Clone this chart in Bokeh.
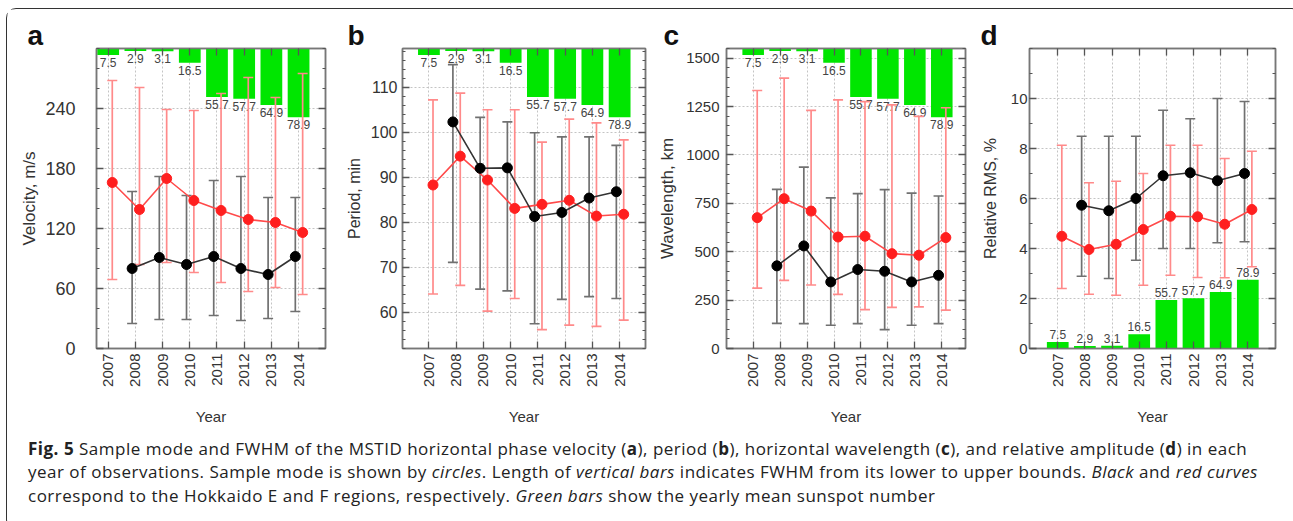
import math
from bokeh.plotting import figure
from bokeh.models import ColumnDataSource, FixedTicker, LinearAxis, Range1d, Div
from bokeh.layouts import row, column
from bokeh.core.properties import value
from bokeh.embed import file_html
from bokeh.resources import INLINE

NAN = float("nan")

years = [2007, 2008, 2009, 2010, 2011, 2012, 2013, 2014]
sunspot = [7.5, 2.9, 3.1, 16.5, 55.7, 57.7, 64.9, 78.9]
sunspot_labels = ["7.5", "2.9", "3.1", "16.5", "55.7", "57.7", "64.9", "78.9"]

# (a) Velocity, m/s
vel_E_mode = [NAN, 80, 91, 84, 92, 80, 74, 92]
vel_E_low = [NAN, 25, 29, 29, 33, 28, 30, 37]
vel_E_up = [NAN, 157, 172, 153, 168, 172, 151, 151]
vel_F_mode = [166, 139, 170, 148, 138, 129, 126, 116]
vel_F_low = [69, 84, 86, 76, 66, 57, 61, 54]
vel_F_up = [268, 261, 239, 238, 255, 271, 251, 275]

# (b) Period, min
per_E_mode = [NAN, 102.3, 92.0, 92.1, 81.3, 82.2, 85.4, 86.8]
per_E_low = [NAN, 71.1, 65.2, 64.8, 57.5, 62.9, 63.5, 63.1]
per_E_up = [NAN, 115.0, 103.3, 102.3, 99.9, 99.0, 99.0, 97.1]
per_F_mode = [88.3, 94.7, 89.4, 83.1, 84.0, 84.9, 81.4, 81.8]
per_F_low = [64.1, 66.0, 60.3, 63.1, 56.2, 57.2, 56.9, 58.3]
per_F_up = [107.2, 108.7, 105.0, 105.0, 97.8, 102.9, 102.1, 98.3]

# (c) Wavelength, km
wl_E_mode = [NAN, 427, 530, 344, 408, 399, 344, 378]
wl_E_low = [NAN, 130, 129, 120, 129, 98, 120, 129]
wl_E_up = [NAN, 822, 937, 778, 800, 821, 803, 788]
wl_F_mode = [676, 774, 710, 576, 580, 490, 482, 573]
wl_F_low = [312, 352, 328, 280, 201, 212, 215, 198]
wl_F_up = [1333, 1397, 1230, 1285, 1276, 1259, 1199, 1244]

# (d) Relative RMS, %
rms_E_mode = [NAN, 5.73, 5.51, 6.0, 6.91, 7.03, 6.71, 7.0]
rms_E_low = [NAN, 2.89, 2.8, 3.53, 4.0, 4.0, 4.23, 4.27]
rms_E_up = [NAN, 8.49, 8.49, 8.49, 9.53, 9.19, 10.0, 9.88]
rms_F_mode = [4.49, 3.96, 4.17, 4.76, 5.29, 5.27, 4.97, 5.56]
rms_F_low = [2.4, 2.17, 2.13, 2.53, 2.93, 2.84, 2.83, 3.27]
rms_F_up = [8.13, 6.63, 6.69, 7.0, 8.13, 8.13, 7.6, 7.89]

FONT = "Liberation Sans"
GREEN = "#00e600"
BAR_FRAC = 0.0029  # fraction of y span per sunspot unit
E_OFF, F_OFF = -0.12, 0.15
FIG_H = 419


def make_panel(letter, ylabel, yrange, xrange, yticks, yminor, E, F, bars_up,
               width, lb, rb, tick_standoff, label_standoff, title_offset,
               tick_fs, label_fs):
    ymin, ymax = yrange
    span = ymax - ymin
    p = figure(width=width, height=FIG_H, x_range=Range1d(*xrange), y_range=Range1d(*yrange),
               output_backend="svg", toolbar_location=None, title=letter,
               min_border_left=lb, min_border_right=rb, min_border_top=39, min_border_bottom=80)
    p.background_fill_color = "white"
    p.border_fill_color = "white"
    p.outline_line_color = "#777777"
    p.outline_line_width = 1.5

    p.title.text_font = FONT
    p.title.text_font_size = "28px"
    p.title.text_font_style = "bold"
    p.title.text_color = "#111111"
    p.title.align = "left"
    p.title.offset = title_offset
    p.title.standoff = -4

    yt = FixedTicker(ticks=yticks, minor_ticks=yminor)
    xt = FixedTicker(ticks=years, minor_ticks=[])

    for ax in p.yaxis:
        ax.ticker = yt
    for ax in p.xaxis:
        ax.ticker = xt
        ax.major_label_orientation = math.pi / 2
        ax.axis_label = "Year"
        ax.axis_label_standoff = 18
        ax.major_label_standoff = 5
        ax.major_label_text_font_size = "15px"
    p.yaxis.axis_label = ylabel
    p.yaxis.axis_label_standoff = label_standoff
    p.yaxis.major_label_standoff = tick_standoff

    ra = LinearAxis(ticker=yt, major_label_text_font_size="1px", major_label_text_color=None,
                    major_label_standoff=0)
    ta = LinearAxis(ticker=xt, major_label_text_font_size="1px", major_label_text_color=None,
                    major_label_standoff=0)
    p.add_layout(ra, "right")
    p.add_layout(ta, "above")

    for ax in p.axis:
        ax.axis_line_color = "#777777"
        ax.axis_line_width = 1.5
        ax.major_tick_in = 7
        ax.major_tick_out = 0
        ax.minor_tick_in = 3
        ax.minor_tick_out = 0
        ax.major_tick_line_color = "#555555"
        ax.minor_tick_line_color = "#555555"
        ax.major_tick_line_width = 1.3
        ax.axis_label_text_font = FONT
        ax.axis_label_text_font_style = "normal"
        ax.axis_label_text_color = "#333333"
        ax.major_label_text_font = FONT
        if ax.major_label_text_color is not None:
            ax.major_label_text_color = "#333333"
    for ax in p.xaxis:
        ax.axis_label_text_font_size = "15px"
    p.yaxis[0].axis_label_text_font_size = label_fs
    p.yaxis[0].major_label_text_font_size = tick_fs

    p.xgrid.ticker = xt
    p.ygrid.ticker = yt
    for g in (p.xgrid[0], p.ygrid[0]):
        g.grid_line_color = "#c4c4c4"
        g.grid_line_dash = "2 2"
        g.grid_line_width = 1

    # sunspot bars
    lengths = [BAR_FRAC * span * s for s in sunspot]
    if bars_up:
        bottoms = [ymin] * len(years)
        tops = [ymin + L for L in lengths]
        lab_y = tops
        baseline, yoff = "bottom", -3
    else:
        tops = [ymax] * len(years)
        bottoms = [ymax - L for L in lengths]
        lab_y = bottoms
        baseline, yoff = "top", 3
    bsrc = ColumnDataSource(dict(x=years, top=tops, bottom=bottoms, ly=lab_y, lab=sunspot_labels))
    p.vbar(x="x", top="top", bottom="bottom", width=0.8, source=bsrc,
           fill_color=GREEN, line_color=None)
    p.text(x="x", y="ly", text="lab", source=bsrc, text_align="center", text_baseline=baseline,
           y_offset=yoff, text_font_size="12px", text_color="#444444", text_font=value(FONT))

    xE = [y + E_OFF for y in years]
    xF = [y + F_OFF for y in years]
    e_mode, e_low, e_up = E
    f_mode, f_low, f_up = F

    # error bars
    for xs, lo, hi, col in ((xF, f_low, f_up, "#ff8a8a"), (xE, e_low, e_up, "#707070")):
        src = ColumnDataSource(dict(x=xs, lo=lo, hi=hi))
        p.segment(x0="x", y0="lo", x1="x", y1="hi", source=src, line_color=col, line_width=1.7)
        p.scatter(x="x", y="lo", source=src, marker="dash", size=10, line_color=col, line_width=1.7)
        p.scatter(x="x", y="hi", source=src, marker="dash", size=10, line_color=col, line_width=1.7)

    # curves
    p.line(xF, f_mode, line_color="#ff4a4a", line_width=1.6)
    p.line(xE, e_mode, line_color="#333333", line_width=1.6)
    p.scatter(xF, f_mode, size=10, fill_color="#ff1f1f", line_color="#ff1f1f")
    p.scatter(xE, e_mode, size=10, fill_color="#000000", line_color="#000000")
    return p


pa = make_panel("a", "Velocity, m/s", (0, 300), (2006.57, 2014.99),
                [0, 60, 120, 180, 240], list(range(0, 301, 20)),
                (vel_E_mode, vel_E_low, vel_E_up), (vel_F_mode, vel_F_low, vel_F_up), False,
                330, 89, 12, 21, 3, -69, "18px", "17px")
pb = make_panel("b", "Period, min", (52, 118.6), (2006.03, 2014.95),
                [60, 70, 80, 90, 100, 110], list(range(52, 119, 2)),
                (per_E_mode, per_E_low, per_E_up), (per_F_mode, per_F_low, per_F_up), False,
                318, 65, 10, 5, 5, -55, "16px", "16px")
pc = make_panel("c", "Wavelength, km", (0, 1550), (2006.01, 2014.88),
                [0, 250, 500, 750, 1000, 1250, 1500], list(range(0, 1551, 50)),
                (wl_E_mode, wl_E_low, wl_E_up), (wl_F_mode, wl_F_low, wl_F_up), False,
                320, 68, 10, 7, 6, -63, "15px", "17px")
pd_ = make_panel("d", "Relative RMS, %", (0, 12), (2005.96, 2015.02),
                 [0, 2, 4, 6, 8, 10], list(range(0, 13, 1)),
                 (rms_E_mode, rms_E_low, rms_E_up), (rms_F_mode, rms_F_low, rms_F_up), True,
                 316, 54, 16, 2, 9, -49, "15px", "16px")

caption_html = (
    '<div style="font-family:\'Open Sans\'; font-size:17px; letter-spacing:0.5px; '
    'line-height:23.3px; color:#222; white-space:nowrap; padding-left:16px; padding-top:4px;">'
    '<b>Fig. 5</b> Sample mode and FWHM of the MSTID horizontal phase velocity (<b>a</b>), '
    'period (<b>b</b>), horizontal wavelength (<b>c</b>), and relative amplitude (<b>d</b>) in each<br>'
    'year of observations. Sample mode is shown by <i>circles</i>. Length of <i>vertical bars</i> '
    'indicates FWHM from its lower to upper bounds. <i>Black</i> and <i>red curves</i><br>'
    'correspond to the Hokkaido E and F regions, respectively. <i>Green bars</i> show the yearly '
    'mean sunspot number</div>'
)
caption = Div(text=caption_html, width=1284, height=91)

layout = column(row(pa, pb, pc, pd_), caption,
                styles={"border": "1px solid #333333", "border-radius": "10px",
                        "background-color": "white", "margin": "8px 0 0 6px"})

open("out.html", "w").write(file_html(layout, INLINE))
